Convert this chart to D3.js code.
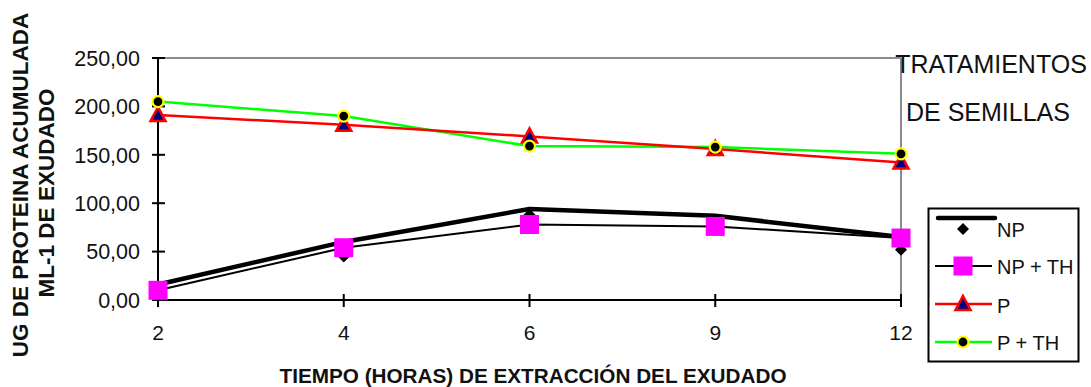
<!DOCTYPE html>
<html><head><meta charset="utf-8">
<script src="https://cdn.jsdelivr.net/npm/d3@7"></script>
<style>body{margin:0;background:#fff}svg{display:block}text{font-family:Arial,"Liberation Sans",sans-serif}</style>
</head><body><svg id="c" width="1091" height="387"></svg>
<script>
const categories = ["2","4","6","9","12"];
const npLine = [16, 60, 94, 87, 65];
const npMarkers = [12, 45, 88, 80, 52];
const npTh = [10, 54, 78, 76, 64];
const p = [191, 181, 169, 156, 142];
const pTh = [205, 190, 159, 158, 151];
const yTicks = [0, 50, 100, 150, 200, 250];
const legendLabels = ["NP", "NP + TH", "P", "P + TH"];

const svg = d3.select("#c");
const x = d3.scalePoint().domain(categories).range([158, 901]);
const y = d3.scaleLinear().domain([0, 250]).range([300, 58]);
const fmt = v => d3.format(".2f")(v).replace(".", ",");

// plot frame (gray top/right)
svg.append("line").attr("x1", 158).attr("x2", 901).attr("y1", y(250)).attr("y2", y(250)).attr("stroke", "#8c8c8c").attr("stroke-width", 2);
svg.append("line").attr("x1", 901).attr("x2", 901).attr("y1", y(250)).attr("y2", y(0)).attr("stroke", "#8c8c8c").attr("stroke-width", 2);

// y axis
const ya = svg.append("g");
ya.append("line").attr("x1", 158).attr("x2", 158).attr("y1", y(250) - 1).attr("y2", y(0)).attr("stroke", "#000").attr("stroke-width", 2);
yTicks.forEach(t => {
  ya.append("line").attr("x1", 152).attr("x2", 165).attr("y1", y(t)).attr("y2", y(t)).attr("stroke", "#000").attr("stroke-width", 2);
  ya.append("text").attr("x", 140).attr("y", y(t)).attr("dy", "0.36em").attr("text-anchor", "end").attr("font-size", 21.5).attr("fill", "#111").text(fmt(t));
});
// x axis
const xa = svg.append("g");
xa.append("line").attr("x1", 157).attr("x2", 902).attr("y1", y(0)).attr("y2", y(0)).attr("stroke", "#000").attr("stroke-width", 2);
categories.forEach(c => {
  xa.append("line").attr("x1", x(c)).attr("x2", x(c)).attr("y1", 294).attr("y2", 307).attr("stroke", "#000").attr("stroke-width", 2);
  xa.append("text").attr("x", x(c)).attr("y", 340).attr("text-anchor", "middle").attr("font-size", 21).attr("fill", "#111").text(c);
});

const line = d3.line().x((d, i) => x(categories[i])).y(d => y(d));

// lines
svg.append("path").attr("d", line(pTh)).attr("fill", "none").attr("stroke", "#00ff00").attr("stroke-width", 2.5);
svg.append("path").attr("d", line(p)).attr("fill", "none").attr("stroke", "#ff0000").attr("stroke-width", 2.5);

// marker draw helpers
function diamond(g, cx, cy) { g.append("path").attr("d", `M${cx},${cy-6}L${cx+6},${cy}L${cx},${cy+6}L${cx-6},${cy}Z`).attr("fill", "#000"); }
function square(g, cx, cy) { g.append("rect").attr("x", cx - 9.5).attr("y", cy - 9.5).attr("width", 19).attr("height", 19).attr("fill", "#ff00ff"); }
function tri(g, cx, cy) { g.append("path").attr("d", `M${cx},${cy-8}L${cx+7.5},${cy+6}L${cx-7.5},${cy+6}Z`).attr("fill", "#000080").attr("stroke", "#ff0000").attr("stroke-width", 2.5).attr("stroke-linejoin", "miter"); }
function circ(g, cx, cy) { g.append("circle").attr("cx", cx).attr("cy", cy).attr("r", 5.5).attr("fill", "#000").attr("stroke", "#ffff00").attr("stroke-width", 2.2); }

const mk = svg.append("g");
npMarkers.forEach((v, i) => diamond(mk, x(categories[i]), y(v)));
svg.append("path").attr("d", line(npLine)).attr("fill", "none").attr("stroke", "#000").attr("stroke-width", 4.5).attr("stroke-linejoin", "round");
svg.append("path").attr("d", line(npTh)).attr("fill", "none").attr("stroke", "#000").attr("stroke-width", 2);
npTh.forEach((v, i) => square(svg, x(categories[i]), y(v)));
p.forEach((v, i) => tri(svg, x(categories[i]), y(v)));
pTh.forEach((v, i) => circ(svg, x(categories[i]), y(v)));

// titles
svg.append("text").attr("x", 533).attr("y", 383).attr("text-anchor", "middle").attr("font-size", 21).attr("font-weight", "bold").attr("fill", "#111")
  .attr("textLength", 507).attr("lengthAdjust", "spacingAndGlyphs").text("TIEMPO (HORAS) DE EXTRACCIÓN DEL EXUDADO");
svg.append("text").attr("transform", "translate(28,185) rotate(-90)").attr("text-anchor", "middle").attr("font-size", 22.5).attr("font-weight", "bold").attr("fill", "#111").text("UG DE PROTEINA ACUMULADA");
svg.append("text").attr("transform", "translate(54,193) rotate(-90)").attr("text-anchor", "middle").attr("font-size", 22.5).attr("font-weight", "bold").attr("fill", "#111").text("ML-1 DE EXUDADO");
svg.append("text").attr("x", 991).attr("y", 73).attr("text-anchor", "middle").attr("font-size", 25).attr("fill", "#111").text("TRATAMIENTOS");
svg.append("text").attr("x", 988).attr("y", 121).attr("text-anchor", "middle").attr("font-size", 25).attr("fill", "#111").text("DE SEMILLAS");

// legend
const lg = svg.append("g");
lg.append("rect").attr("x", 928.5).attr("y", 208.5).attr("width", 150).attr("height", 153).attr("fill", "#fff").attr("stroke", "#000").attr("stroke-width", 2);
const ly = [218, 266, 304, 342];
const lb = [237, 274, 313, 350];
// NP
lg.append("line").attr("x1", 938).attr("x2", 995).attr("y1", ly[0]).attr("y2", ly[0]).attr("stroke", "#000").attr("stroke-width", 4.5).attr("stroke-linecap", "round");
diamond(lg, 963, 229);
// NP+TH
lg.append("line").attr("x1", 935).attr("x2", 992).attr("y1", ly[1]).attr("y2", ly[1]).attr("stroke", "#000").attr("stroke-width", 2);
square(lg, 963, ly[1]);
lg.append("line").attr("x1", 935).attr("x2", 992).attr("y1", ly[2]).attr("y2", ly[2]).attr("stroke", "#ff0000").attr("stroke-width", 2.5);
tri(lg, 963, ly[2]);
lg.append("line").attr("x1", 935).attr("x2", 992).attr("y1", ly[3]).attr("y2", ly[3]).attr("stroke", "#00ff00").attr("stroke-width", 2.5);
circ(lg, 963, ly[3]);
legendLabels.forEach((t, i) => lg.append("text").attr("x", 997).attr("y", lb[i]).attr("font-size", 20).attr("fill", "#111").text(t));
</script></body></html>
